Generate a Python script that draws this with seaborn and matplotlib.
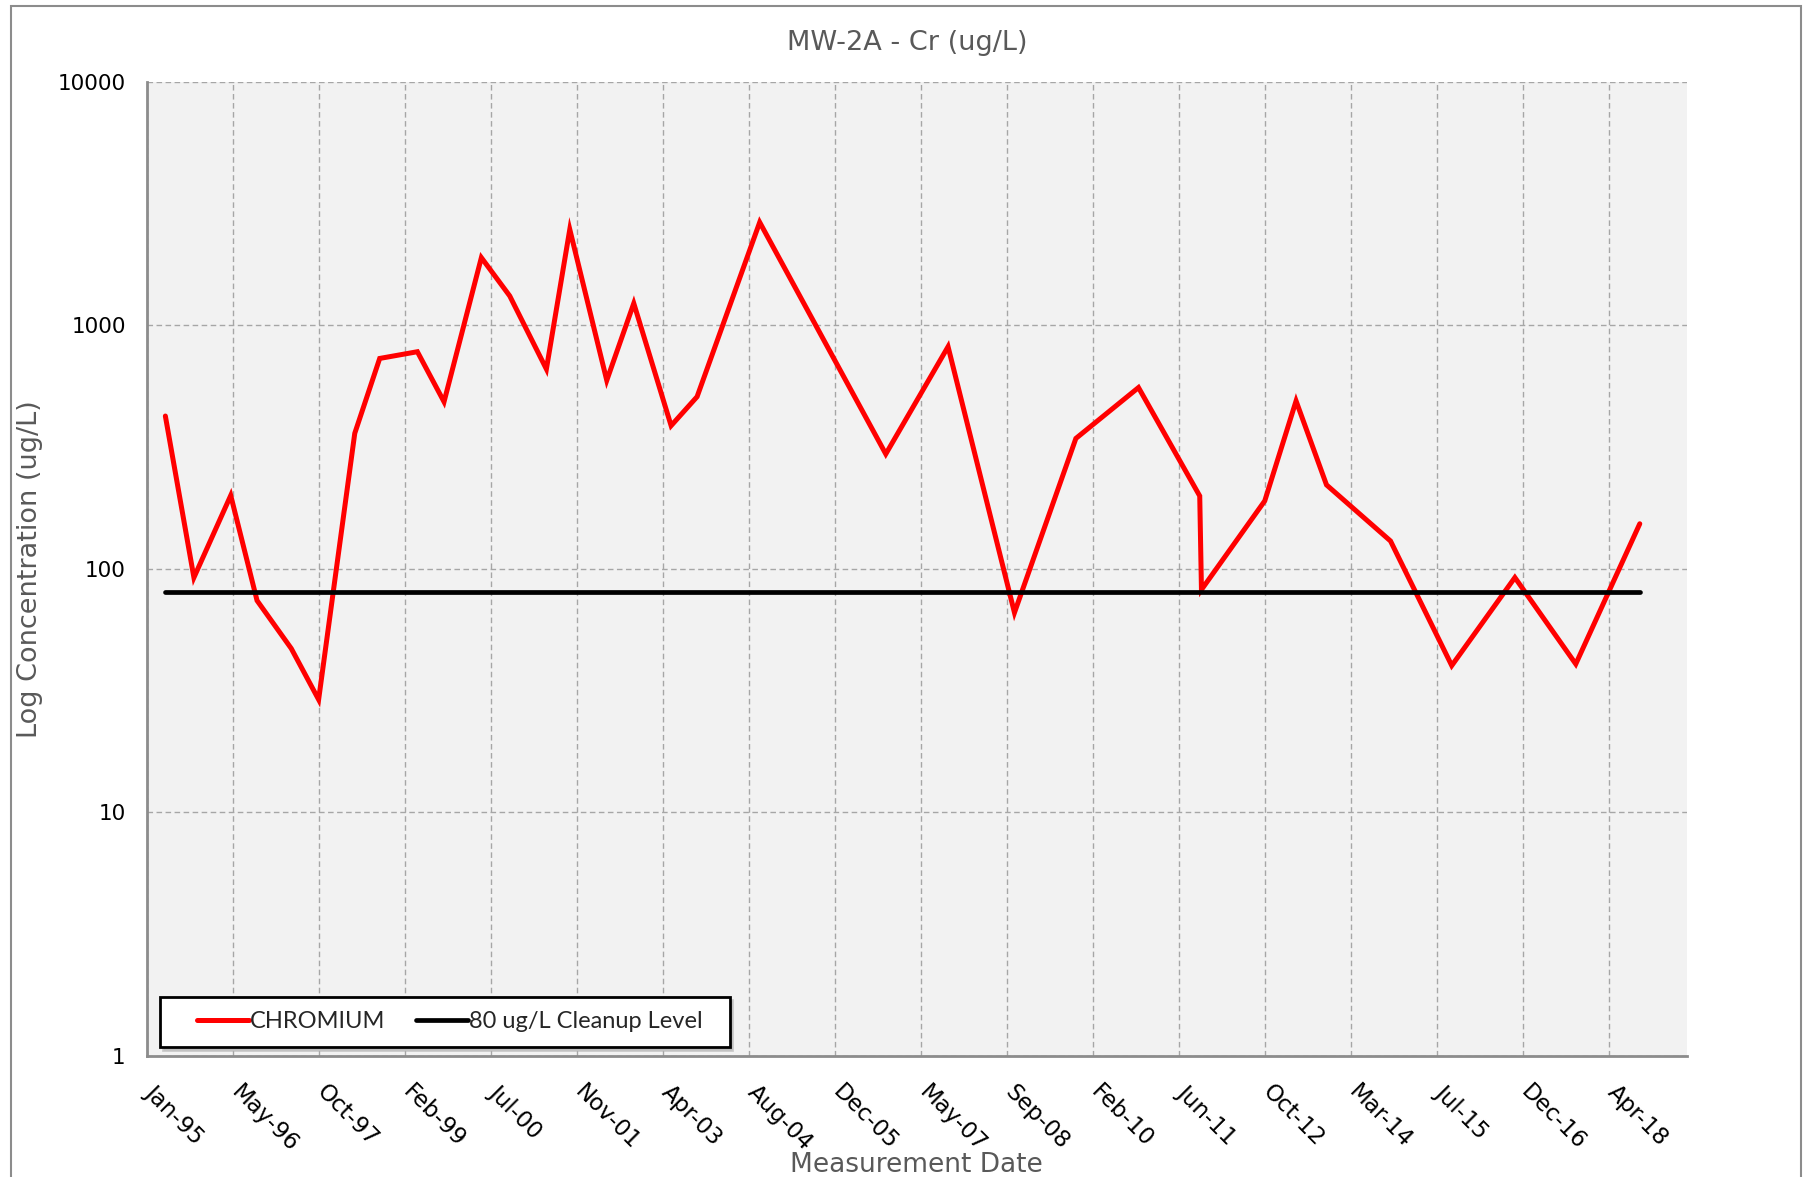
import matplotlib
matplotlib.use("Agg")
import matplotlib.pyplot as plt
import matplotlib.patches as patches
import matplotlib.transforms as mtransforms
from matplotlib.legend_handler import HandlerLine2D
from matplotlib.lines import Line2D
import seaborn as sns
import pandas as pd

# sample dates and chromium concentrations (ug/L)
dates = ["1995-05-02", "1995-10-15", "1996-05-16", "1996-10-16", "1997-05-03",
         "1997-10-09", "1998-05-07", "1998-09-29", "1999-05-06", "1999-10-08",
         "2000-05-12", "2000-10-24", "2001-05-25", "2001-10-08", "2002-05-11",
         "2002-10-15", "2003-05-20", "2003-10-18", "2004-10-16", "2006-10-19",
         "2007-10-16", "2008-11-05", "2009-10-28", "2010-10-27", "2011-10-18",
         "2011-10-28", "2012-10-30", "2013-04-30", "2013-10-24", "2014-10-31",
         "2015-10-22", "2016-10-23", "2017-10-12", "2018-10-19"]
chromium = [424, 92, 200, 74, 47, 29, 360, 731, 779, 485,
            1897, 1320, 661, 2477, 594, 1231, 387, 509, 2650, 296,
            817, 66, 343, 555, 199, 82, 190, 489, 221, 130,
            40, 92, 40.6, 153]
cleanup_level = 80

df = pd.DataFrame({"date": pd.to_datetime(dates), "CHROMIUM": chromium})
df["80 ug/L Cleanup Level"] = cleanup_level

axis_start = pd.Timestamp("1995-01-13")
tick_dates = pd.date_range(axis_start, periods=18, freq="500D")
axis_end = axis_start + pd.Timedelta(days=8952)


class ShortLineHandler(HandlerLine2D):
    # legend line drawn only on the right part of the handle box
    def create_artists(self, legend, orig_handle, xdescent, ydescent,
                       width, height, fontsize, trans):
        y = height / 2 - ydescent
        x0 = -xdescent + width * 0.3
        line = Line2D([x0, width - xdescent], [y, y],
                      color=orig_handle.get_color(),
                      linewidth=orig_handle.get_linewidth(),
                      solid_capstyle="round")
        line.set_transform(trans)
        return [line]


sns.set_style("whitegrid")
plt.rcParams["font.family"] = ["DejaVu Sans"]

fig = plt.figure(figsize=(18.1, 11.77), dpi=100)
ax = fig.add_axes([0.081, 0.1032, 0.8508, 0.8272])
ax.set_facecolor("#f2f2f2")

sns.lineplot(data=df, x="date", y="CHROMIUM", ax=ax, color="#ff0000",
             linewidth=3.6, label="CHROMIUM")
sns.lineplot(data=df, x="date", y="80 ug/L Cleanup Level", ax=ax,
             color="black", linewidth=3.4, label="80 ug/L Cleanup Level")
for ln in ax.lines:
    ln.set_solid_capstyle("round")
    ln.set_solid_joinstyle("miter")

ax.set_yscale("log")
ax.set_ylim(1, 10000)
ax.set_yticks([1, 10, 100, 1000, 10000])
ax.set_yticklabels(["1", "10", "100", "1000", "10000"])
ax.minorticks_off()
ax.set_xlim(axis_start, axis_end)
ax.set_xticks(tick_dates)
ax.set_xticklabels([d.strftime("%b-%y") for d in tick_dates])

ax.grid(True, color="#a6a6a6", linestyle=(0, (4, 2.5)), linewidth=1)
for s in ["top", "right"]:
    ax.spines[s].set_visible(False)
for s in ["left", "bottom"]:
    ax.spines[s].set_color("#8c8c8c")
    ax.spines[s].set_linewidth(2)

ax.tick_params(axis="both", which="major", direction="out", length=7,
               width=1.5, color="#8c8c8c", labelsize=15.5, labelcolor="black")
ax.tick_params(axis="y", pad=8)
ax.tick_params(axis="x", pad=11)
shift = mtransforms.ScaledTranslation(10 / 100, 0, fig.dpi_scale_trans)
for lbl in ax.get_xticklabels():
    lbl.set_rotation(-45)
    lbl.set_ha("left")
    lbl.set_va("top")
    lbl.set_rotation_mode("anchor")
    lbl.set_fontsize(16.5)
    lbl.set_transform(lbl.get_transform() + shift)

ax.set_xlabel("Measurement Date", fontsize=19, color="#595959")
ax.xaxis.label.set_va("center")
ax.xaxis.set_label_coords(0.5, -0.112)
ax.set_ylabel("Log Concentration (ug/L)", fontsize=19.5, color="#595959")
ax.yaxis.label.set_va("center")
ax.yaxis.set_label_coords(-0.0755, 0.5)

fig.text(0.501, 0.9635, "MW-2A - Cr (ug/L)", ha="center", va="center",
         fontsize=19.5, color="#595959")

handles, labels = ax.get_legend_handles_labels()
labels = [labels[0], labels[1] + "  "]
leg = ax.legend(handles, labels, loc="lower left",
                bbox_to_anchor=(0.0086, 0.0087),
                borderaxespad=0, ncol=2, frameon=True, fancybox=False,
                shadow={"color": "#b0b0b0", "alpha": 0.6}, handlelength=3.15,
                handletextpad=0.05, columnspacing=0.35, borderpad=0.62,
                handler_map={Line2D: ShortLineHandler()},
                prop={"family": "Lato", "size": 17})
leg.get_frame().set_edgecolor("black")
leg.get_frame().set_linewidth(2)
leg.get_frame().set_facecolor("white")
leg.get_frame().set_alpha(1)

border = patches.Rectangle((0.006, -0.01), 0.989, 1.005, transform=fig.transFigure,
                           fill=False, edgecolor="#8c8c8c", linewidth=1.5)
fig.patches.append(border)

fig.savefig("out.png", dpi=100)
